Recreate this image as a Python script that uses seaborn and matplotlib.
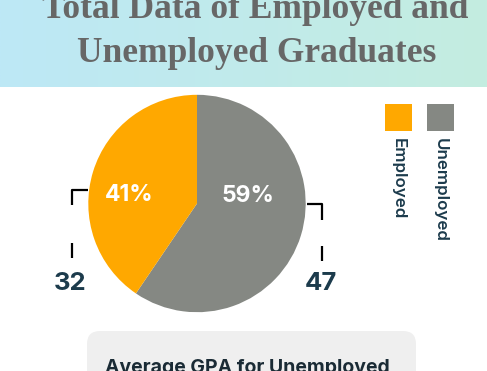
import numpy as np
import matplotlib
matplotlib.use("Agg")
import matplotlib.pyplot as plt
from matplotlib.patches import FancyBboxPatch, Rectangle
import seaborn as sns

# Data
categories = ["Employed", "Unemployed"]
counts = [32, 47]
colors = ["#FFA800", "#858883"]
title_lines = ["Total Data of Employed and", "Unemployed Graduates"]
box_title = "Average GPA for Unemployed"

sns.set_theme(style="white")
plt.rcParams['font.family'] = ['Inter', 'DejaVu Sans']

W, H = 487, 371
fig = plt.figure(figsize=(W / 100, H / 100), dpi=100)
fig.patch.set_facecolor("white")

# background axes in pixel coords (y down)
bg = fig.add_axes([0, 0, 1, 1])
bg.set_xlim(0, W)
bg.set_ylim(H, 0)
bg.axis("off")

# header gradient
left = np.array([189, 232, 246]) / 255
right = np.array([196, 237, 224]) / 255
t = np.linspace(0, 1, 200)
grad = (left[None, :] * (1 - t[:, None]) + right[None, :] * t[:, None])[None, :, :]
bg.imshow(grad, extent=[0, W, 87, 0], aspect="auto", zorder=0)

bg.text(W / 2 + 12, 18, title_lines[0], ha="center", va="baseline", fontsize=25.5,
        family="Liberation Serif", fontweight="bold", color="#676767")
bg.text(W / 2 + 13, 62, title_lines[1], ha="center", va="baseline", fontsize=25.5,
        family="Liberation Serif", fontweight="bold", color="#676767")

# pie
cx, cy, r = 197, 203.5, 108.7
pax = fig.add_axes([(cx - r) / W, (H - cy - r) / H, 2 * r / W, 2 * r / H])
order = [1, 0]
pax.pie([counts[i] for i in order], colors=[colors[i] for i in order],
        startangle=90, counterclock=False, radius=1,
        wedgeprops=dict(linewidth=0))
pax.set_xlim(-1, 1)
pax.set_ylim(-1, 1)
pax.set_aspect("equal")
pax.axis("off")

total = sum(counts)
pcts = [round(c / total * 100) for c in counts]
pax.text(-0.62, 0.08, f"{pcts[0]}%", color="white", fontsize=16.5,
         fontweight="bold", ha="center", va="center")
pax.text(0.47, 0.07, f"{pcts[1]}%", color="white", fontsize=16.5,
         fontweight="bold", ha="center", va="center")

# brackets and counts
navy = "#1C3B4C"
bg.plot([88, 72, 72], [190, 190, 205], color="black", lw=1.6, solid_capstyle="butt")
bg.plot([72, 72], [243, 258], color="black", lw=1.6, solid_capstyle="butt")
bg.plot([307, 322, 322], [204, 204, 220], color="black", lw=1.6, solid_capstyle="butt")
bg.plot([322, 322], [246, 261], color="black", lw=1.6, solid_capstyle="butt")
bg.text(70, 283, str(counts[0]), color=navy, fontsize=18.5, fontweight="bold",
        ha="center", va="center")
bg.text(321, 283, str(counts[1]), color=navy, fontsize=18.5, fontweight="bold",
        ha="center", va="center")

# legend
for x0, lab, col in zip([385, 427], categories, colors):
    bg.add_patch(Rectangle((x0, 104), 27, 27, color=col, lw=0))
    bg.text(x0 + 13.5, 138, lab, rotation=-90, ha="center", va="top",
            color=navy, fontsize=12.2, fontweight="semibold")

# bottom box
bg.add_patch(FancyBboxPatch((87, 331), 329, 80, boxstyle="round,pad=0,rounding_size=13",
                            facecolor="#EFEFEF", edgecolor="none"))
bg.text(105, 359, box_title, ha="left", va="top", color="#1A2B35",
        fontsize=14, fontweight="bold")

fig.savefig("out.png", dpi=100)
